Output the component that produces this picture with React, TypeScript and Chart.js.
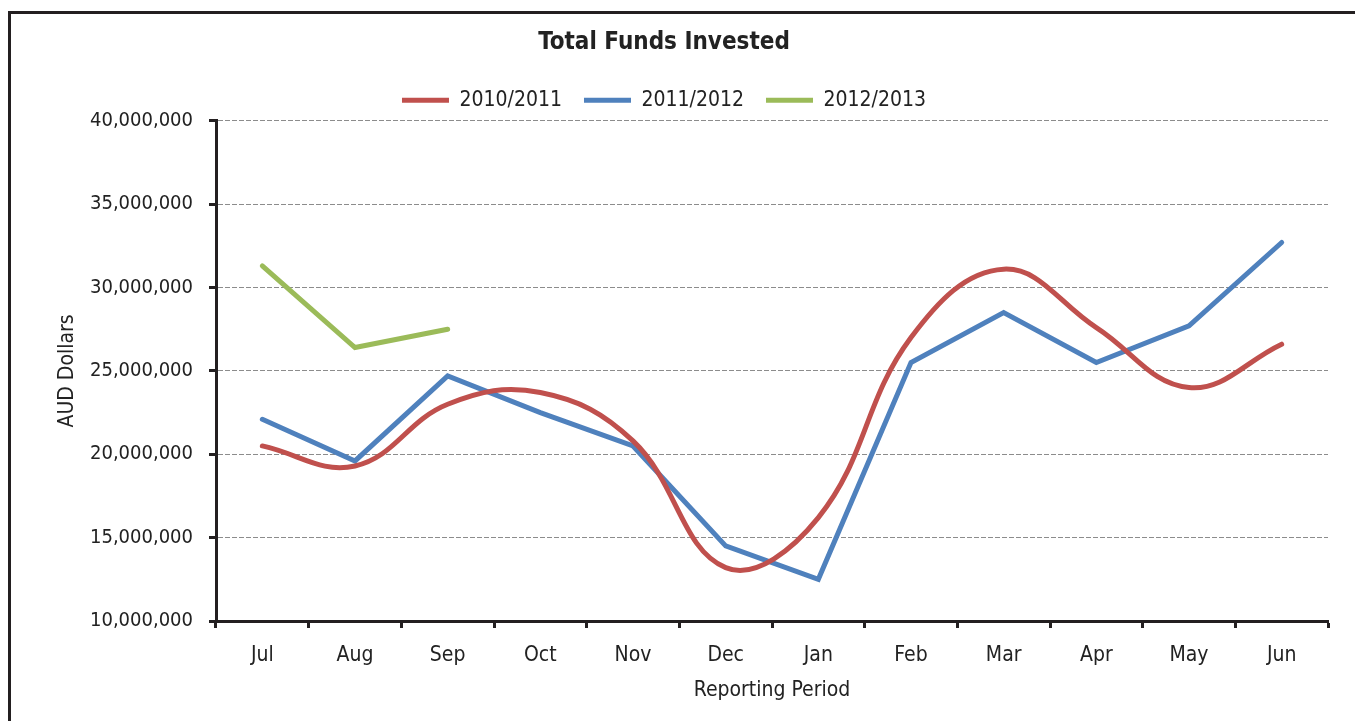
import React, { useEffect, useRef } from "react";
import { Chart, registerables } from "chart.js";

Chart.register(...registerables);

const FONT = "'Liberation Sans Narrow', 'Arial Narrow', 'DejaVu Sans Condensed', sans-serif";
const TEXT = "#222222";

const months = ["Jul", "Aug", "Sep", "Oct", "Nov", "Dec", "Jan", "Feb", "Mar", "Apr", "May", "Jun"];
const fy2010 = [20500000, 19300000, 23000000, 23700000, 20800000, 13200000, 16200000, 27000000, 31100000, 27600000, 24000000, 26600000];
const fy2011 = [22100000, 19600000, 24700000, 22500000, 20500000, 14500000, 12500000, 25500000, 28500000, 25500000, 27700000, 32700000];
const fy2012 = [31300000, 26400000, 27500000, null, null, null, null, null, null, null, null, null];
const seriesNames = ["2010/2011", "2011/2012", "2012/2013"];
const yTicks = [10000000, 15000000, 20000000, 25000000, 30000000, 35000000, 40000000];

export default function App() {
  const ref = useRef<HTMLCanvasElement>(null);

  useEffect(() => {
    Chart.defaults.font.family = FONT;
    Chart.defaults.color = TEXT;
    const chart = new Chart(ref.current as HTMLCanvasElement, {
      type: "line",
      data: {
        labels: months,
        datasets: [
          { label: seriesNames[0], data: fy2010, borderColor: "#C0504D", backgroundColor: "#C0504D", borderWidth: 5, tension: 0.4, pointRadius: 0, borderCapStyle: "round", borderJoinStyle: "round" },
          { label: seriesNames[1], data: fy2011, borderColor: "#4F81BD", backgroundColor: "#4F81BD", borderWidth: 5, tension: 0, pointRadius: 0, borderCapStyle: "round", borderJoinStyle: "miter" },
          { label: seriesNames[2], data: fy2012, borderColor: "#9BBB59", backgroundColor: "#9BBB59", borderWidth: 5, tension: 0, pointRadius: 0, borderCapStyle: "round", borderJoinStyle: "miter", spanGaps: false },
        ],
      },
      options: {
        animation: false,
        responsive: false,
        maintainAspectRatio: false,
        layout: { padding: { top: 0, left: 0, right: 27, bottom: 0 } },
        plugins: {
          tooltip: { enabled: false },
          title: {
            display: true,
            text: "Total Funds Invested",
            color: TEXT,
            font: { family: FONT, size: 24, weight: "bold", lineHeight: 1.2 },
            padding: { top: 28, bottom: 11 },
          },
          legend: {
            display: true,
            position: "top",
            labels: {
              usePointStyle: true,
              pointStyle: "line",
              pointStyleWidth: 47,
              color: TEXT,
              font: { family: FONT, size: 21 },
              padding: 22,
            },
          },
        },
        scales: {
          x: {
            type: "category",
            offset: true,
            afterFit: (s: any) => { s.height = 100; },
            grid: { display: true, offset: true, drawOnChartArea: false, drawTicks: true, tickLength: 7, tickColor: "#231f20", tickWidth: 3 },
            border: { display: true, color: "#231f20", width: 3 },
            ticks: { color: TEXT, font: { family: FONT, size: 21, lineHeight: 1.2 }, padding: 15, maxRotation: 0, autoSkip: false },
            title: { display: true, text: "Reporting Period", color: TEXT, font: { family: FONT, size: 21, lineHeight: 1.2 }, padding: { top: 0, bottom: 18 } },
          },
          y: {
            min: yTicks[0],
            max: yTicks[yTicks.length - 1],
            afterFit: (s: any) => { s.width = 216; },
            afterBuildTicks: (s: any) => { s.ticks = yTicks.map((v) => ({ value: v })); },
            grid: { display: true, color: "#8c8c8c", lineWidth: 1, drawTicks: true, tickLength: 7, tickColor: "#231f20", tickWidth: 3, tickBorderDash: [] },
            border: { display: true, color: "#231f20", width: 3, dash: [5, 2] },
            ticks: {
              color: TEXT,
              font: { family: FONT, size: 20, lineHeight: 1.2 },
              padding: 16,
              callback: (v: any) => Number(v).toLocaleString("en-US"),
            },
            title: { display: true, text: "AUD Dollars", color: TEXT, font: { family: FONT, size: 21, lineHeight: 1.2 }, padding: { top: 55, bottom: 0 } },
          },
        },
      },
    });
    return () => chart.destroy();
  }, []);

  return (
    <div style={{ position: "fixed", left: 0, top: 0, width: 1355, height: 721, background: "#fff", overflow: "hidden" }}>
      <div style={{ position: "absolute", left: 8, top: 11, width: 1400, height: 760, borderLeft: "3px solid #231f20", borderTop: "3px solid #231f20" }} />
      <canvas ref={ref} width={1355} height={721} style={{ position: "absolute", left: 0, top: 0, width: 1355, height: 721 }} />
    </div>
  );
}
